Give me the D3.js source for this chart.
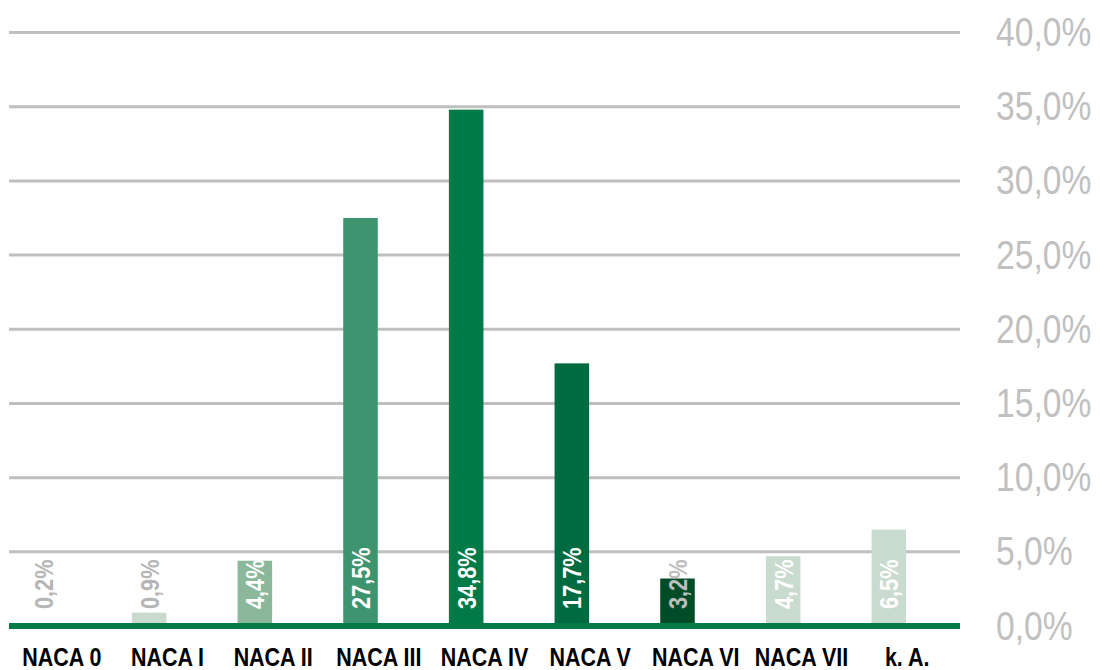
<!DOCTYPE html>
<html><head><meta charset="utf-8">
<script src="https://cdn.jsdelivr.net/npm/d3@7"></script>
<style>body{margin:0;background:#fff}svg{display:block}</style>
</head><body><svg id="c" width="1106" height="670"></svg>
<script>
const categories = ["NACA 0","NACA I","NACA II","NACA III","NACA IV","NACA V","NACA VI","NACA VII","k. A."];
const values = [0.2, 0.9, 4.4, 27.5, 34.8, 17.7, 3.2, 4.7, 6.5];
const barColors = ["#c9dbcf","#c9dbcf","#8bb89b","#3f9470","#007a46","#006b40","#004c26","#c9dbcf","#c9dbcf"];
const labelColors = ["#b5b5b5","#b5b5b5","#ffffff","#ffffff","#ffffff","#ffffff","#bdbdbd","#ffffff","#ffffff"];
const tickValues = [0,5,10,15,20,25,30,35,40];

const svg = d3.select("#c");
const font = "'Liberation Sans Narrow','Arial Narrow','Liberation Sans',Arial,sans-serif";
const SX = 0.82; // condensed look
const y = d3.scaleLinear().domain([0,40]).range([626,32.5]);
const x = d3.scaleBand().domain(categories).range([9,960]).padding(0);
const bw = x.bandwidth();
const barW = bw*0.327, barOff = bw*0.163;
const fmt = v => v.toFixed(1).replace(".", ",") + "%";

// gridlines
svg.append("g").selectAll("line").data(tickValues.filter(d=>d>0)).join("line")
  .attr("x1",9).attr("x2",960).attr("y1",d=>y(d)).attr("y2",d=>y(d))
  .attr("stroke","#bfbfbf").attr("stroke-width",3);

// right axis labels
const axis = d3.axisRight(y).tickValues(tickValues).tickSize(0).tickFormat(fmt);
const ag = svg.append("g").attr("transform","translate(996,0)").call(axis);
ag.select(".domain").remove();
ag.selectAll("text").attr("x",0).attr("dy",null).attr("y",13)
  .attr("transform",`scale(${SX},1)`)
  .attr("fill","#c0c0c0").attr("font-family",font).attr("font-size",41).attr("text-anchor","start");

// bars
svg.append("g").selectAll("rect").data(values).join("rect")
  .attr("x",(d,i)=>x(categories[i])+barOff).attr("width",barW)
  .attr("y",d=>y(d)).attr("height",d=>y(0)-y(d))
  .attr("fill",(d,i)=>barColors[i]);

// baseline
svg.append("line").attr("x1",9).attr("x2",960).attr("y1",y(0)).attr("y2",y(0))
  .attr("stroke","#007a46").attr("stroke-width",6);

// value labels
svg.append("g").selectAll("text").data(values).join("text")
  .attr("transform",(d,i)=>`translate(${x(categories[i])+barOff+barW/2+9.5},609) rotate(-90) scale(${SX},1)`)
  .attr("text-anchor","start").attr("font-family",font).attr("font-weight","bold")
  .attr("font-size",26.5).attr("fill",(d,i)=>labelColors[i]).text(fmt);

// category labels
svg.append("g").selectAll("text").data(categories).join("text")
  .attr("transform",d=>`translate(${x(d)+bw/2},666) scale(0.81,1)`).attr("text-anchor","middle")
  .attr("font-family",font).attr("font-weight","bold").attr("font-size",26.5)
  .attr("fill","#000").text(d=>d);
</script></body></html>
